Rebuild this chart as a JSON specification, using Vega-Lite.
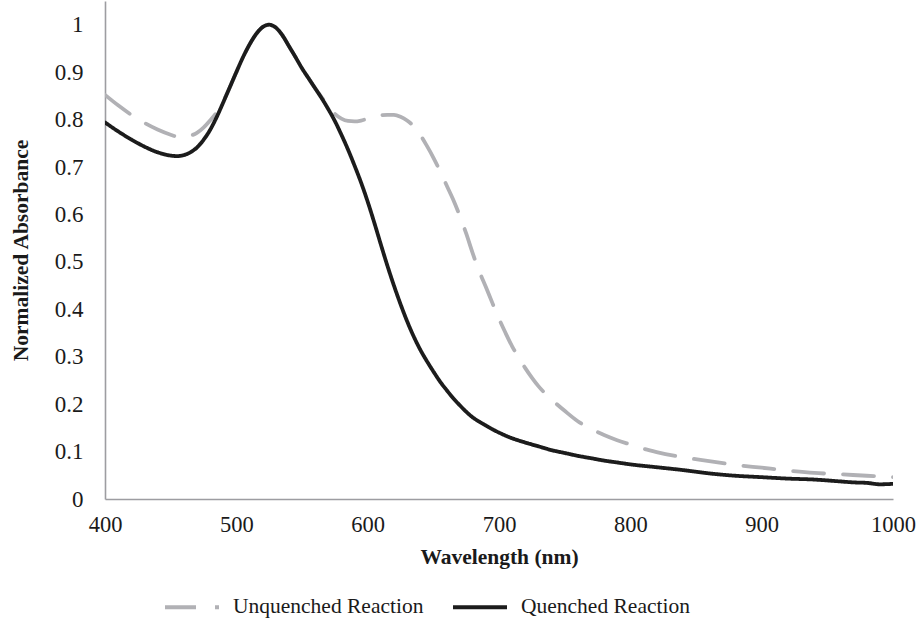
{
  "$schema": "https://vega.github.io/schema/vega-lite/v6.json",
  "autosize": "none",
  "width": 788,
  "height": 498,
  "padding": {"left": 105, "top": 1, "right": 26, "bottom": 120},
  "background": "white",
  "config": {
    "view": {"stroke": null},
    "font": "Liberation Serif"
  },
  "datasets": {
    "spectra": [
      {"series": "Unquenched Reaction", "nm": 400, "abs": 0.852},
      {"series": "Unquenched Reaction", "nm": 410, "abs": 0.830},
      {"series": "Unquenched Reaction", "nm": 420, "abs": 0.810},
      {"series": "Unquenched Reaction", "nm": 430, "abs": 0.793},
      {"series": "Unquenched Reaction", "nm": 440, "abs": 0.779},
      {"series": "Unquenched Reaction", "nm": 450, "abs": 0.768},
      {"series": "Unquenched Reaction", "nm": 455, "abs": 0.764},
      {"series": "Unquenched Reaction", "nm": 460, "abs": 0.763},
      {"series": "Unquenched Reaction", "nm": 465, "abs": 0.766},
      {"series": "Unquenched Reaction", "nm": 470, "abs": 0.772},
      {"series": "Unquenched Reaction", "nm": 475, "abs": 0.783},
      {"series": "Unquenched Reaction", "nm": 480, "abs": 0.798},
      {"series": "Unquenched Reaction", "nm": 485, "abs": 0.815},
      {"series": "Unquenched Reaction", "nm": 490, "abs": 0.838},
      {"series": "Unquenched Reaction", "nm": 495, "abs": 0.868},
      {"series": "Unquenched Reaction", "nm": 500, "abs": 0.900},
      {"series": "Unquenched Reaction", "nm": 505, "abs": 0.931},
      {"series": "Unquenched Reaction", "nm": 510, "abs": 0.958},
      {"series": "Unquenched Reaction", "nm": 515, "abs": 0.980},
      {"series": "Unquenched Reaction", "nm": 520, "abs": 0.995},
      {"series": "Unquenched Reaction", "nm": 525, "abs": 1.000},
      {"series": "Unquenched Reaction", "nm": 530, "abs": 0.994},
      {"series": "Unquenched Reaction", "nm": 535, "abs": 0.978},
      {"series": "Unquenched Reaction", "nm": 540, "abs": 0.955},
      {"series": "Unquenched Reaction", "nm": 545, "abs": 0.932},
      {"series": "Unquenched Reaction", "nm": 550, "abs": 0.908},
      {"series": "Unquenched Reaction", "nm": 555, "abs": 0.887},
      {"series": "Unquenched Reaction", "nm": 560, "abs": 0.866},
      {"series": "Unquenched Reaction", "nm": 565, "abs": 0.847},
      {"series": "Unquenched Reaction", "nm": 570, "abs": 0.828},
      {"series": "Unquenched Reaction", "nm": 575, "abs": 0.812},
      {"series": "Unquenched Reaction", "nm": 580, "abs": 0.802},
      {"series": "Unquenched Reaction", "nm": 585, "abs": 0.797},
      {"series": "Unquenched Reaction", "nm": 590, "abs": 0.796},
      {"series": "Unquenched Reaction", "nm": 595, "abs": 0.798},
      {"series": "Unquenched Reaction", "nm": 600, "abs": 0.802},
      {"series": "Unquenched Reaction", "nm": 605, "abs": 0.806},
      {"series": "Unquenched Reaction", "nm": 610, "abs": 0.809},
      {"series": "Unquenched Reaction", "nm": 615, "abs": 0.810},
      {"series": "Unquenched Reaction", "nm": 620, "abs": 0.810},
      {"series": "Unquenched Reaction", "nm": 625, "abs": 0.806},
      {"series": "Unquenched Reaction", "nm": 630, "abs": 0.798},
      {"series": "Unquenched Reaction", "nm": 635, "abs": 0.786},
      {"series": "Unquenched Reaction", "nm": 640, "abs": 0.768},
      {"series": "Unquenched Reaction", "nm": 645, "abs": 0.745},
      {"series": "Unquenched Reaction", "nm": 650, "abs": 0.720},
      {"series": "Unquenched Reaction", "nm": 655, "abs": 0.692},
      {"series": "Unquenched Reaction", "nm": 660, "abs": 0.662},
      {"series": "Unquenched Reaction", "nm": 665, "abs": 0.632},
      {"series": "Unquenched Reaction", "nm": 670, "abs": 0.598},
      {"series": "Unquenched Reaction", "nm": 675, "abs": 0.560},
      {"series": "Unquenched Reaction", "nm": 680, "abs": 0.518},
      {"series": "Unquenched Reaction", "nm": 685, "abs": 0.480},
      {"series": "Unquenched Reaction", "nm": 690, "abs": 0.447},
      {"series": "Unquenched Reaction", "nm": 695, "abs": 0.413},
      {"series": "Unquenched Reaction", "nm": 700, "abs": 0.380},
      {"series": "Unquenched Reaction", "nm": 705, "abs": 0.350},
      {"series": "Unquenched Reaction", "nm": 710, "abs": 0.322},
      {"series": "Unquenched Reaction", "nm": 715, "abs": 0.298},
      {"series": "Unquenched Reaction", "nm": 720, "abs": 0.276},
      {"series": "Unquenched Reaction", "nm": 725, "abs": 0.256},
      {"series": "Unquenched Reaction", "nm": 730, "abs": 0.238},
      {"series": "Unquenched Reaction", "nm": 740, "abs": 0.210},
      {"series": "Unquenched Reaction", "nm": 750, "abs": 0.186},
      {"series": "Unquenched Reaction", "nm": 760, "abs": 0.164},
      {"series": "Unquenched Reaction", "nm": 770, "abs": 0.148},
      {"series": "Unquenched Reaction", "nm": 780, "abs": 0.135},
      {"series": "Unquenched Reaction", "nm": 790, "abs": 0.124},
      {"series": "Unquenched Reaction", "nm": 800, "abs": 0.115},
      {"series": "Unquenched Reaction", "nm": 810, "abs": 0.106},
      {"series": "Unquenched Reaction", "nm": 820, "abs": 0.099},
      {"series": "Unquenched Reaction", "nm": 840, "abs": 0.088},
      {"series": "Unquenched Reaction", "nm": 860, "abs": 0.080},
      {"series": "Unquenched Reaction", "nm": 880, "abs": 0.072},
      {"series": "Unquenched Reaction", "nm": 900, "abs": 0.066},
      {"series": "Unquenched Reaction", "nm": 920, "abs": 0.060},
      {"series": "Unquenched Reaction", "nm": 940, "abs": 0.055},
      {"series": "Unquenched Reaction", "nm": 960, "abs": 0.052},
      {"series": "Unquenched Reaction", "nm": 980, "abs": 0.049},
      {"series": "Unquenched Reaction", "nm": 1000, "abs": 0.046},
      {"series": "Quenched Reaction", "nm": 400, "abs": 0.794},
      {"series": "Quenched Reaction", "nm": 410, "abs": 0.775},
      {"series": "Quenched Reaction", "nm": 420, "abs": 0.758},
      {"series": "Quenched Reaction", "nm": 430, "abs": 0.743},
      {"series": "Quenched Reaction", "nm": 440, "abs": 0.731},
      {"series": "Quenched Reaction", "nm": 450, "abs": 0.724},
      {"series": "Quenched Reaction", "nm": 455, "abs": 0.723},
      {"series": "Quenched Reaction", "nm": 460, "abs": 0.725},
      {"series": "Quenched Reaction", "nm": 465, "abs": 0.731},
      {"series": "Quenched Reaction", "nm": 470, "abs": 0.741},
      {"series": "Quenched Reaction", "nm": 475, "abs": 0.757},
      {"series": "Quenched Reaction", "nm": 480, "abs": 0.778},
      {"series": "Quenched Reaction", "nm": 485, "abs": 0.805},
      {"series": "Quenched Reaction", "nm": 490, "abs": 0.836},
      {"series": "Quenched Reaction", "nm": 495, "abs": 0.868},
      {"series": "Quenched Reaction", "nm": 500, "abs": 0.900},
      {"series": "Quenched Reaction", "nm": 505, "abs": 0.931},
      {"series": "Quenched Reaction", "nm": 510, "abs": 0.958},
      {"series": "Quenched Reaction", "nm": 515, "abs": 0.980},
      {"series": "Quenched Reaction", "nm": 520, "abs": 0.995},
      {"series": "Quenched Reaction", "nm": 525, "abs": 1.000},
      {"series": "Quenched Reaction", "nm": 530, "abs": 0.994},
      {"series": "Quenched Reaction", "nm": 535, "abs": 0.978},
      {"series": "Quenched Reaction", "nm": 540, "abs": 0.955},
      {"series": "Quenched Reaction", "nm": 545, "abs": 0.932},
      {"series": "Quenched Reaction", "nm": 550, "abs": 0.908},
      {"series": "Quenched Reaction", "nm": 555, "abs": 0.887},
      {"series": "Quenched Reaction", "nm": 560, "abs": 0.866},
      {"series": "Quenched Reaction", "nm": 565, "abs": 0.845},
      {"series": "Quenched Reaction", "nm": 570, "abs": 0.822},
      {"series": "Quenched Reaction", "nm": 575, "abs": 0.797},
      {"series": "Quenched Reaction", "nm": 580, "abs": 0.768},
      {"series": "Quenched Reaction", "nm": 585, "abs": 0.737},
      {"series": "Quenched Reaction", "nm": 590, "abs": 0.703},
      {"series": "Quenched Reaction", "nm": 595, "abs": 0.667},
      {"series": "Quenched Reaction", "nm": 600, "abs": 0.627},
      {"series": "Quenched Reaction", "nm": 605, "abs": 0.583},
      {"series": "Quenched Reaction", "nm": 610, "abs": 0.537},
      {"series": "Quenched Reaction", "nm": 615, "abs": 0.492},
      {"series": "Quenched Reaction", "nm": 620, "abs": 0.450},
      {"series": "Quenched Reaction", "nm": 625, "abs": 0.411},
      {"series": "Quenched Reaction", "nm": 630, "abs": 0.375},
      {"series": "Quenched Reaction", "nm": 635, "abs": 0.343},
      {"series": "Quenched Reaction", "nm": 640, "abs": 0.315},
      {"series": "Quenched Reaction", "nm": 645, "abs": 0.291},
      {"series": "Quenched Reaction", "nm": 650, "abs": 0.269},
      {"series": "Quenched Reaction", "nm": 655, "abs": 0.248},
      {"series": "Quenched Reaction", "nm": 660, "abs": 0.230},
      {"series": "Quenched Reaction", "nm": 665, "abs": 0.213},
      {"series": "Quenched Reaction", "nm": 670, "abs": 0.198},
      {"series": "Quenched Reaction", "nm": 675, "abs": 0.184},
      {"series": "Quenched Reaction", "nm": 680, "abs": 0.172},
      {"series": "Quenched Reaction", "nm": 685, "abs": 0.163},
      {"series": "Quenched Reaction", "nm": 690, "abs": 0.155},
      {"series": "Quenched Reaction", "nm": 695, "abs": 0.147},
      {"series": "Quenched Reaction", "nm": 700, "abs": 0.140},
      {"series": "Quenched Reaction", "nm": 710, "abs": 0.128},
      {"series": "Quenched Reaction", "nm": 720, "abs": 0.119},
      {"series": "Quenched Reaction", "nm": 730, "abs": 0.111},
      {"series": "Quenched Reaction", "nm": 740, "abs": 0.103},
      {"series": "Quenched Reaction", "nm": 750, "abs": 0.097},
      {"series": "Quenched Reaction", "nm": 760, "abs": 0.091},
      {"series": "Quenched Reaction", "nm": 770, "abs": 0.086},
      {"series": "Quenched Reaction", "nm": 780, "abs": 0.081},
      {"series": "Quenched Reaction", "nm": 790, "abs": 0.077},
      {"series": "Quenched Reaction", "nm": 800, "abs": 0.073},
      {"series": "Quenched Reaction", "nm": 820, "abs": 0.067},
      {"series": "Quenched Reaction", "nm": 840, "abs": 0.061},
      {"series": "Quenched Reaction", "nm": 860, "abs": 0.054},
      {"series": "Quenched Reaction", "nm": 880, "abs": 0.049},
      {"series": "Quenched Reaction", "nm": 900, "abs": 0.046},
      {"series": "Quenched Reaction", "nm": 920, "abs": 0.043},
      {"series": "Quenched Reaction", "nm": 940, "abs": 0.041},
      {"series": "Quenched Reaction", "nm": 960, "abs": 0.037},
      {"series": "Quenched Reaction", "nm": 970, "abs": 0.035},
      {"series": "Quenched Reaction", "nm": 980, "abs": 0.034},
      {"series": "Quenched Reaction", "nm": 990, "abs": 0.031},
      {"series": "Quenched Reaction", "nm": 1000, "abs": 0.032}
    ]
  },
  "data": {"name": "spectra"},
  "mark": {"type": "line", "interpolate": "monotone", "strokeWidth": 3.8, "strokeCap": "round", "strokeJoin": "round", "clip": true},
  "encoding": {
    "x": {
      "field": "nm",
      "type": "quantitative",
      "scale": {"domain": [400, 1000], "nice": false, "zero": false},
      "axis": {
        "title": "Wavelength (nm)",
        "values": [400, 500, 600, 700, 800, 900, 1000],
        "format": "d",
        "grid": false,
        "ticks": false,
        "labelFlush": false,
        "labelOverlap": false,
        "domainColor": "#9d9da1",
        "domainWidth": 1.6,
        "labelFont": "Liberation Serif",
        "labelFontSize": 22.5,
        "labelColor": "#1a1a1a",
        "labelPadding": 14,
        "titleFont": "Liberation Serif",
        "titleFontSize": 21.5,
        "titleFontWeight": "bold",
        "titleColor": "#1a1a1a",
        "titlePadding": 11
      }
    },
    "y": {
      "field": "abs",
      "type": "quantitative",
      "scale": {"domain": [0, 1.05], "nice": false},
      "axis": {
        "title": "Normalized Absorbance",
        "values": [0, 0.1, 0.2, 0.3, 0.4, 0.5, 0.6, 0.7, 0.8, 0.9, 1],
        "format": ".1~f",
        "grid": false,
        "ticks": false,
        "labelFlush": false,
        "labelOverlap": false,
        "domainColor": "#9d9da1",
        "domainWidth": 1.6,
        "labelFont": "Liberation Serif",
        "labelFontSize": 23,
        "labelColor": "#1a1a1a",
        "labelPadding": 22,
        "titleFont": "Liberation Serif",
        "titleFontSize": 21.5,
        "titleFontWeight": "bold",
        "titleColor": "#1a1a1a",
        "titlePadding": 22
      }
    },
    "color": {
      "field": "series",
      "type": "nominal",
      "sort": ["Unquenched Reaction", "Quenched Reaction"],
      "scale": {"domain": ["Unquenched Reaction", "Quenched Reaction"], "range": ["#b1b1b5", "#1c1c1c"]},
      "legend": {
        "title": null,
        "orient": "none",
        "legendX": 58,
        "legendY": 577,
        "direction": "horizontal",
        "columns": 2,
        "symbolType": "stroke",
        "symbolSize": 2916,
        "symbolStrokeWidth": 3.8,
        "labelFont": "Liberation Serif",
        "labelFontSize": 21.5,
        "labelColor": "#1a1a1a",
        "labelOffset": 12,
        "columnPadding": 21,
        "labelLimit": 400
      }
    },
    "strokeDash": {
      "field": "series",
      "type": "nominal",
      "sort": ["Unquenched Reaction", "Quenched Reaction"],
      "scale": {"domain": ["Unquenched Reaction", "Quenched Reaction"], "range": [[31, 19], [1, 0]]},
      "legend": {
        "title": null,
        "orient": "none",
        "legendX": 58,
        "legendY": 577,
        "direction": "horizontal",
        "columns": 2,
        "symbolType": "stroke",
        "symbolSize": 2916,
        "symbolStrokeWidth": 3.8,
        "labelFont": "Liberation Serif",
        "labelFontSize": 21.5,
        "labelColor": "#1a1a1a",
        "labelOffset": 12,
        "columnPadding": 21,
        "labelLimit": 400
      }
    }
  }
}
